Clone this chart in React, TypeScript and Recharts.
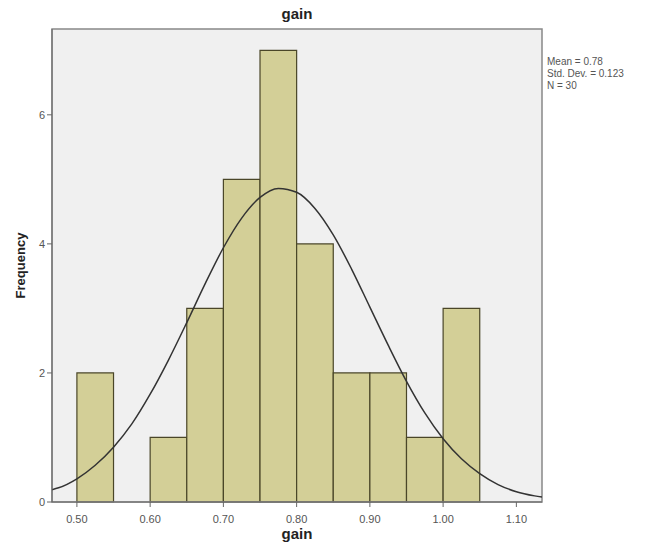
import {
  ComposedChart,
  Line,
  XAxis,
  YAxis,
  CartesianGrid,
  ReferenceArea,
} from "recharts";

// histogram bins (lower edge) and counts
const binStarts = [0.5, 0.55, 0.6, 0.65, 0.7, 0.75, 0.8, 0.85, 0.9, 0.95, 1.0];
const binCounts = [2, 0, 1, 3, 5, 7, 4, 2, 2, 1, 3];
const binWidth = 0.05;

// normal curve
const curveX = [
  0.466, 0.475, 0.5, 0.525, 0.55, 0.575, 0.6, 0.625, 0.65, 0.675, 0.7, 0.725, 0.75, 0.775,
  0.8, 0.825, 0.85, 0.875, 0.9, 0.925, 0.95, 0.975, 1.0, 1.025, 1.05, 1.075, 1.1, 1.125, 1.135,
];
const curveY = [
  0.19, 0.22, 0.36, 0.57, 0.85, 1.21, 1.67, 2.2, 2.78, 3.38, 3.94, 4.4, 4.72, 4.86,
  4.8, 4.55, 4.14, 3.61, 3.02, 2.43, 1.87, 1.38, 0.98, 0.67, 0.44, 0.27, 0.16, 0.095, 0.076,
];

const xTicks = [0.5, 0.6, 0.7, 0.8, 0.9, 1.0, 1.1];
const yTicks = [0, 2, 4, 6];

const curveData = curveX.map((x, i) => ({ x, y: curveY[i] }));

const tickStyle = { fontSize: 11, fill: "#555", fontFamily: "Arial, 'Liberation Sans', sans-serif" };

export default function App() {
  return (
    <div
      style={{
        position: "absolute",
        left: 0,
        top: 0,
        width: 648,
        height: 559,
        background: "#fff",
        fontFamily: "Arial, 'Liberation Sans', sans-serif",
      }}
    >
      <div
        style={{
          position: "absolute",
          left: 0,
          width: 594,
          top: 5,
          textAlign: "center",
          fontWeight: "bold",
          fontSize: 15,
          color: "#222",
        }}
      >
        gain
      </div>
      <div style={{ position: "absolute", left: 547, top: 56, fontSize: 10, lineHeight: "12px", color: "#555" }}>
        Mean = 0.78
        <br />
        Std. Dev. = 0.123
        <br />
        N = 30
      </div>
      <ComposedChart
        width={648}
        height={559}
        data={curveData}
        margin={{ top: 29, right: 106, bottom: 7, left: 12 }}
      >
        <CartesianGrid fill="#f0f0f0" horizontal={false} vertical={false} />
        <XAxis
          dataKey="x"
          type="number"
          domain={[0.466, 1.135]}
          ticks={xTicks}
          tickFormatter={(v: number) => v.toFixed(2)}
          tick={tickStyle}
          tickSize={5}
          tickMargin={8}
          height={50}
          stroke="#666"
          allowDataOverflow
          label={{
            value: "gain",
            position: "insideBottom",
            offset: 13,
            style: { fontWeight: "bold", fontSize: 15, fill: "#222" },
          }}
        />
        <YAxis
          type="number"
          domain={[0, 7.33]}
          ticks={yTicks}
          width={40}
          tick={tickStyle}
          tickSize={5}
          stroke="#666"
          allowDataOverflow
          label={{
            value: "Frequency",
            angle: -90,
            position: "insideLeft",
            offset: 8,
            style: { fontWeight: "bold", fontSize: 13, fill: "#222", textAnchor: "middle" },
          }}
        />
        {binStarts.map((start, i) =>
          binCounts[i] > 0 ? (
            <ReferenceArea
              key={start}
              x1={start}
              x2={start + binWidth}
              y1={0}
              y2={binCounts[i]}
              fill="#d3cf97"
              fillOpacity={1}
              stroke="#4a4628"
              strokeWidth={1.2}
              ifOverflow="visible"
            />
          ) : null
        )}
        <ReferenceArea
          x1={0.466}
          x2={1.135}
          y1={0}
          y2={7.33}
          fill="none"
          stroke="#888"
          strokeWidth={1.5}
          ifOverflow="visible"
        />
        <Line
          dataKey="y"
          type="monotone"
          stroke="#333"
          strokeWidth={1.5}
          dot={false}
          isAnimationActive={false}
        />
      </ComposedChart>
    </div>
  );
}
